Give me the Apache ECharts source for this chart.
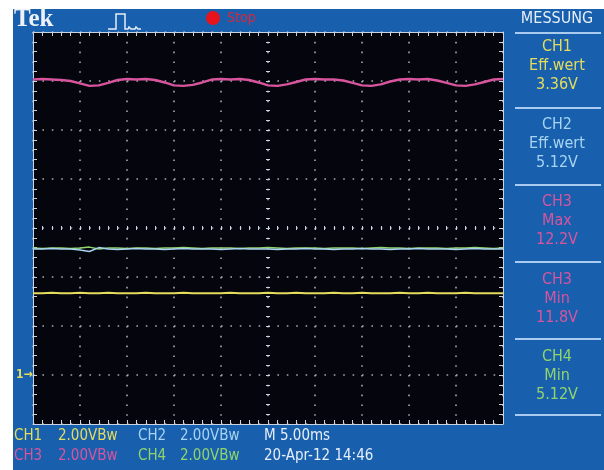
<!DOCTYPE html>
<html>
<head>
<meta charset="utf-8">
<script src="https://cdn.jsdelivr.net/npm/echarts@6/dist/echarts.min.js"></script>
<style>
  html, body { margin: 0; padding: 0; background: #ffffff; width: 604px; height: 470px; overflow: hidden; }
  #chart { position: absolute; left: 13px; top: 9px; width: 591px; height: 461px; }
</style>
</head>
<body>
<div id="chart"></div>
<script>
// Bildschirm: 10 x 8 Teilungen, Werte in Teilungen (Mitte = 0), Abtastung alle 0.2 Teilungen
var sampleStep = 0.2;
var ch3Trace = [3.03, 3.04, 3.03, 3.02, 3.00, 2.95, 2.90, 2.91, 2.96, 3.02,
                3.04, 3.03, 3.04, 3.02, 2.97, 2.91, 2.90, 2.92, 2.97, 3.03,
                3.04, 3.03, 3.04, 3.02, 2.97, 2.91, 2.90, 2.93, 2.98, 3.03,
                3.04, 3.03, 3.03, 3.01, 2.96, 2.91, 2.90, 2.93, 2.99, 3.03,
                3.04, 3.03, 3.04, 3.01, 2.96, 2.91, 2.90, 2.93, 2.98, 3.03, 3.04];
var ch2Trace = [-0.43, -0.43, -0.42, -0.43, -0.43, -0.45, -0.48, -0.40, -0.43, -0.44,
                -0.43, -0.42, -0.43, -0.43, -0.44, -0.43, -0.42, -0.43, -0.43, -0.43,
                -0.44, -0.43, -0.42, -0.43, -0.43, -0.43, -0.44, -0.43, -0.43, -0.42,
                -0.43, -0.43, -0.44, -0.43, -0.43, -0.42, -0.43, -0.43, -0.44, -0.43,
                -0.43, -0.42, -0.43, -0.43, -0.43, -0.44, -0.43, -0.42, -0.43, -0.43, -0.43];
var ch4Trace = [-0.41, -0.42, -0.41, -0.41, -0.42, -0.41, -0.39, -0.43, -0.41, -0.41,
                -0.42, -0.41, -0.41, -0.42, -0.41, -0.41, -0.40, -0.41, -0.42, -0.41,
                -0.41, -0.41, -0.42, -0.41, -0.41, -0.40, -0.41, -0.42, -0.41, -0.41,
                -0.41, -0.42, -0.41, -0.41, -0.41, -0.42, -0.41, -0.40, -0.41, -0.41,
                -0.42, -0.41, -0.41, -0.41, -0.42, -0.41, -0.41, -0.40, -0.41, -0.42, -0.41];
var ch1Trace = [-1.33, -1.33, -1.32, -1.33, -1.33, -1.32, -1.33, -1.33, -1.32, -1.33,
                -1.33, -1.33, -1.32, -1.33, -1.33, -1.33, -1.32, -1.33, -1.33, -1.33,
                -1.33, -1.32, -1.33, -1.33, -1.33, -1.32, -1.33, -1.33, -1.32, -1.33,
                -1.33, -1.33, -1.32, -1.33, -1.33, -1.32, -1.33, -1.33, -1.33, -1.32,
                -1.33, -1.33, -1.32, -1.33, -1.33, -1.33, -1.32, -1.33, -1.33, -1.33, -1.33];

var messLabels = ['CH1', 'Eff.wert', '3.36V', 'CH2', 'Eff.wert', '5.12V', 'CH3', 'Max', '12.2V', 'CH3', 'Min', '11.8V', 'CH4', 'Min', '5.12V'];
var statusRow1 = ['CH1', '2.00VBw', 'CH2', '2.00VBw', 'M 5.00ms'];
var statusRow2 = ['CH3', '2.00VBw', 'CH4', '2.00VBw', '20-Apr-12 14:46'];

var col = {
    ch1: '#e4dc5c',
    ch2: '#a6d4f2',
    ch3: '#d8559e',
    ch4: '#90d46c',
    white: '#e6eef8',
    sep: '#a8cbef'
};
var condensed = '"Liberation Sans Narrow", "DejaVu Sans Condensed", sans-serif';

function toPoints(arr) {
    return arr.map(function (v, i) { return [-5 + i * sampleStep, v]; });
}

var myChart = echarts.init(document.getElementById('chart'));

var edge = { color: '#c8d4e2', width: 1 };
var grid = { color: '#a4a9b3', width: 1.6 };

function xAx(pos, offset, main, tickLen) {
    return {
        type: 'value', min: -5, max: 5, interval: 1, position: pos, offset: offset,
        axisLine: { show: main, onZero: false, lineStyle: edge },
        axisTick: { show: true, inside: true, length: tickLen, lineStyle: edge },
        minorTick: { show: true, splitNumber: 5, length: tickLen, lineStyle: edge },
        axisLabel: { show: false },
        splitLine: { show: main && pos === 'bottom', lineStyle: { color: grid.color, width: grid.width, type: [1.6, 8.2] } }
    };
}
function yAx(pos, offset, main, tickLen) {
    return {
        type: 'value', min: -4, max: 4, interval: 1, position: pos, offset: offset,
        axisLine: { show: main, onZero: false, lineStyle: edge },
        axisTick: { show: true, inside: true, length: tickLen, lineStyle: edge },
        minorTick: { show: true, splitNumber: 5, length: tickLen, lineStyle: edge },
        axisLabel: { show: false },
        splitLine: { show: main && pos === 'left', lineStyle: { color: grid.color, width: grid.width, type: [1.6, 7.8] } }
    };
}

// Messwertfeld rechts
var panel = [];
panel.push({ type: 'text', style: { x: 544, y: 10, text: 'MESSUNG', fill: col.white, font: '16px ' + condensed, textAlign: 'center', textVerticalAlign: 'middle' } });
var sepY = [23, 98, 175, 252, 329, 405];
sepY.forEach(function (y) {
    panel.push({ type: 'rect', shape: { x: 502, y: y, width: 86, height: 2 }, style: { fill: col.sep } });
});
var groupCol = [col.ch1, col.ch2, col.ch3, col.ch3, col.ch4];
messLabels.forEach(function (t, i) {
    var g = Math.floor(i / 3), r = i % 3;
    panel.push({ type: 'text', style: { x: 544, y: 38 + g * 77.5 + r * 19, text: t, fill: groupCol[g], font: '16px ' + condensed, textAlign: 'center', textVerticalAlign: 'middle' } });
});

// Statuszeile unten
var statusX = [1, 45, 125, 167, 251];
var row1Col = [col.ch1, col.ch1, col.ch2, col.ch2, col.white];
var row2Col = [col.ch3, col.ch3, col.ch4, col.ch4, col.white];
statusRow1.forEach(function (t, i) {
    panel.push({ type: 'text', style: { x: statusX[i], y: 427, text: t, fill: row1Col[i], font: '15px ' + condensed, textVerticalAlign: 'middle' } });
});
statusRow2.forEach(function (t, i) {
    panel.push({ type: 'text', style: { x: statusX[i], y: 447, text: t, fill: row2Col[i], font: '15px ' + condensed, textVerticalAlign: 'middle' } });
});

// Kopfzeile
panel.push({ type: 'text', style: { x: 1, y: 11, text: 'Tek', fill: '#eef2f8', font: 'bold 25px "Liberation Serif", "DejaVu Serif", serif', textVerticalAlign: 'middle' } });
panel.push({ type: 'polyline', shape: { points: [[95, 20], [103, 20], [103, 5], [112, 5], [112, 20], [115, 20], [116, 18], [118, 20], [122, 20], [123, 18], [125, 20], [128, 20]] }, style: { stroke: '#e6eef8', lineWidth: 1.5, fill: null } });
panel.push({ type: 'circle', shape: { cx: 200, cy: 9, r: 7 }, style: { fill: '#e8141c' } });
panel.push({ type: 'text', style: { x: 214, y: 9, text: 'Stop', fill: '#d8283c', font: '14px ' + condensed, textVerticalAlign: 'middle' } });
// Massemarker
panel.push({ type: 'text', style: { x: 3, y: 366, text: '1\u2192', fill: col.ch1, font: 'bold 12px ' + condensed, textVerticalAlign: 'middle' } });

var option = {
    backgroundColor: '#185fae',
    animation: false,
    grid: { left: 20, top: 23, width: 470, height: 392, show: true, backgroundColor: '#05060d', borderWidth: 0 },
    xAxis: [
        xAx('bottom', 0, true, 4),
        xAx('top', 0, true, 4),
        xAx('bottom', -196, false, 2),
        xAx('top', -196, false, 2)
    ],
    yAxis: [
        yAx('left', 0, true, 4),
        yAx('right', 0, true, 4),
        yAx('left', -235, false, 2),
        yAx('right', -235, false, 2)
    ],
    graphic: panel,
    series: [
        { name: 'CH4', type: 'line', data: toPoints(ch4Trace), showSymbol: false, lineStyle: { color: col.ch4, width: 1.5 }, z: 3 },
        { name: 'CH2', type: 'line', data: toPoints(ch2Trace), showSymbol: false, lineStyle: { color: col.ch2, width: 1.5 }, z: 4 },
        { name: 'CH1', type: 'line', data: toPoints(ch1Trace), showSymbol: false, lineStyle: { color: col.ch1, width: 2 }, z: 3 },
        { name: 'CH3', type: 'line', data: toPoints(ch3Trace), showSymbol: false, lineStyle: { color: col.ch3, width: 2.4 }, z: 3 }
    ]
};
myChart.setOption(option);
</script>
</body>
</html>
